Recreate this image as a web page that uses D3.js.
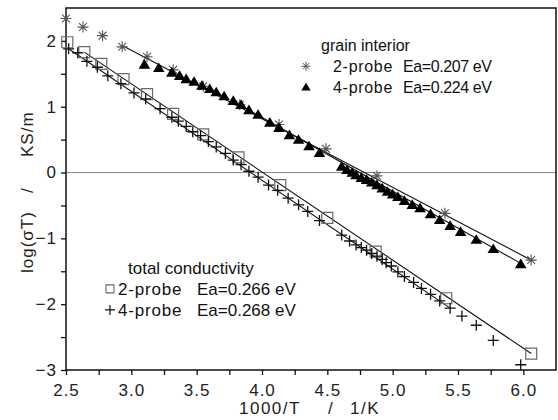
<!DOCTYPE html>
<html>
<head>
<meta charset="utf-8">
<script src="https://cdn.jsdelivr.net/npm/d3@7"></script>
<style>
  body { margin: 0; background: #fff; }
  svg { display: block; font-family: "Liberation Sans", Arial, sans-serif; }
</style>
</head>
<body>
<div id="chart"></div>
<script>
// values (x = 1000/T in 1/K, y = log(sigma T))
const giTwoX = [2.50, 2.63, 2.78, 2.93, 3.12, 3.32, 3.55, 3.83, 4.13, 4.49, 4.88, 5.40, 6.06];
const giTwoY = [2.34, 2.21, 2.08, 1.91, 1.76, 1.56, 1.31, 1.03, 0.73, 0.36, -0.05, -0.62, -1.33];

const giFourX = [3.10, 3.21, 3.31, 3.37, 3.42, 3.48, 3.54, 3.60, 3.65, 3.71,
                 3.78, 3.84, 3.90, 3.97, 4.06, 4.13, 4.21, 4.28, 4.36, 4.44,
                 4.61, 4.65, 4.69, 4.72, 4.76, 4.80, 4.84, 4.88, 4.92, 4.96,
                 5.00, 5.04, 5.09, 5.15, 5.21, 5.29, 5.36, 5.44, 5.52, 5.64,
                 5.77, 5.98];
const giFourY = [1.64, 1.59, 1.52, 1.47, 1.42, 1.38, 1.32, 1.27, 1.22, 1.16,
                 1.09, 1.03, 0.95, 0.88, 0.76, 0.68, 0.57, 0.50, 0.40, 0.30,
                 0.09, 0.04, 0.00, -0.04, -0.08, -0.11, -0.15, -0.19, -0.24, -0.29,
                 -0.33, -0.37, -0.43, -0.49, -0.54, -0.63, -0.72, -0.81, -0.90, -1.02,
                 -1.16, -1.39];

const totTwoX = [2.51, 2.64, 2.77, 2.94, 3.12, 3.32, 3.55, 3.82, 4.14, 4.50, 4.87, 5.41, 6.06];
const totTwoY = [1.98, 1.83, 1.65, 1.42, 1.19, 0.89, 0.58, 0.23, -0.19, -0.69, -1.20, -1.91, -2.75];

const totFourX = [2.52, 2.59, 2.66, 2.74, 2.82, 2.92, 3.02, 3.11, 3.22, 3.31,
                  3.36, 3.42, 3.47, 3.53, 3.59, 3.65, 3.72, 3.78, 3.84, 3.90,
                  3.97, 4.05, 4.12, 4.20, 4.28, 4.35, 4.44, 4.61, 4.67, 4.72,
                  4.76, 4.80, 4.84, 4.88, 4.92, 4.95, 4.99, 5.04, 5.09, 5.16,
                  5.22, 5.29, 5.36, 5.44, 5.53, 5.64, 5.77, 5.98];
const totFourY = [1.88, 1.82, 1.69, 1.60, 1.47, 1.35, 1.21, 1.12, 0.97, 0.84,
                  0.78, 0.70, 0.62, 0.56, 0.47, 0.39, 0.29, 0.19, 0.12, 0.02,
                  -0.07, -0.19, -0.27, -0.39, -0.49, -0.59, -0.73, -0.95, -1.04, -1.10,
                  -1.14, -1.18, -1.23, -1.27, -1.32, -1.37, -1.42, -1.51, -1.58, -1.67,
                  -1.76, -1.85, -1.95, -2.06, -2.18, -2.32, -2.55, -2.92];

// fitted Arrhenius lines, end points
// order: grain 2-probe, grain 4-probe, total 2-probe, total 4-probe
const fitStartX = [2.93, 3.80, 2.64, 2.52];
const fitStartY = [1.93, 1.06, 1.83, 1.88];
const fitEndX = [6.06, 5.98, 6.06, 5.44];
const fitEndY = [-1.33, -1.38, -2.75, -2.06];

const xTicks = [2.5, 2.75, 3.0, 3.25, 3.5, 3.75, 4.0, 4.25, 4.5, 4.75, 5.0, 5.25, 5.5, 5.75, 6.0];
const yTicks = [-3, -2.5, -2, -1.5, -1, -0.5, 0, 0.5, 1, 1.5, 2];

const grainTitle = "grain interior";
const grainProbes = ["2-probe", "4-probe"];
const grainEa = ["Ea=0.207 eV", "Ea=0.224 eV"];
const totalTitle = "total conductivity";
const totalProbes = ["2-probe", "4-probe"];
const totalEa = ["Ea=0.266 eV", "Ea=0.268 eV"];

const width = 558, height = 420;
const margin = { top: 8, right: 2, bottom: 50, left: 66 };

const svg = d3.select("#chart").append("svg")
    .attr("width", width)
    .attr("height", height);

const x = d3.scaleLinear().domain([2.5, 6.25]).range([margin.left, width - margin.right]);
const y = d3.scaleLinear().domain([-3, 2.5]).range([height - margin.bottom, margin.top]);

// zero line
svg.append("line")
    .attr("x1", x(2.5)).attr("x2", x(6.25))
    .attr("y1", y(0)).attr("y2", y(0))
    .attr("stroke", "#8a8a8a")
    .attr("stroke-width", 1);

// axes
const xAxis = d3.axisBottom(x)
    .tickValues(xTicks)
    .tickSize(5)
    .tickSizeOuter(0)
    .tickFormat(d => (Math.abs(d * 2 - Math.round(d * 2)) < 1e-9) ? d3.format(".1f")(d) : "");
const yAxis = d3.axisLeft(y)
    .tickValues(yTicks)
    .tickSize(5)
    .tickSizeOuter(0)
    .tickFormat(d => Number.isInteger(d) ? d3.format("d")(d) : "");

const gx = svg.append("g")
    .attr("transform", `translate(0,${y(-3)})`)
    .call(xAxis);
const gy = svg.append("g")
    .attr("transform", `translate(${x(2.5)},0)`)
    .call(yAxis);

[gx, gy].forEach(g => {
    g.select(".domain").remove();
    g.selectAll(".tick line").attr("stroke", "#111").attr("stroke-width", 1.3);
    g.selectAll(".tick text")
        .attr("fill", "#222")
        .attr("font-size", 17)
        .attr("font-family", "Liberation Sans, Arial, sans-serif")
        .style("letter-spacing", "1px");
});
gx.selectAll(".tick text").attr("dy", "1.05em");
gy.selectAll(".tick text").attr("x", -9);

// frame
svg.append("rect")
    .attr("x", x(2.5)).attr("y", y(2.5))
    .attr("width", x(6.25) - x(2.5))
    .attr("height", y(-3) - y(2.5))
    .attr("fill", "none")
    .attr("stroke", "#111")
    .attr("stroke-width", 1.5);

// fit lines
const line = d3.line().x(d => x(d[0])).y(d => y(d[1]));
svg.append("g")
    .selectAll("path")
    .data(fitStartX.map((v, i) => [[v, fitStartY[i]], [fitEndX[i], fitEndY[i]]]))
    .join("path")
    .attr("d", line)
    .attr("fill", "none")
    .attr("stroke", "#111")
    .attr("stroke-width", 1.1);

// marker shapes
const asteriskPath = r => {
    const d = r * Math.SQRT1_2;
    return `M${-r},0L${r},0M0,${-r}L0,${r}M${-d},${-d}L${d},${d}M${-d},${d}L${d},${-d}`;
};
const plusPath = r => `M${-r},0L${r},0M0,${-r}L0,${r}`;
const trianglePath = r => `M0,${-r}L${r * 1.05},${r * 0.75}L${-r * 1.05},${r * 0.75}Z`;
const squarePath = r => `M${-r},${-r}H${r}V${r}H${-r}Z`;

function drawMarkers(xs, ys, path, fill, stroke, sw) {
    svg.append("g")
        .selectAll("path")
        .data(xs.map((v, i) => [v, ys[i]]))
        .join("path")
        .attr("transform", d => `translate(${x(d[0])},${y(d[1])})`)
        .attr("d", path)
        .attr("fill", fill)
        .attr("stroke", stroke)
        .attr("stroke-width", sw);
}

drawMarkers(totTwoX, totTwoY, squarePath(5.5), "none", "#6a6a6a", 1.2);
drawMarkers(totFourX, totFourY, plusPath(5.5), "none", "#111", 1.3);
drawMarkers(giTwoX, giTwoY, asteriskPath(5.5), "none", "#555", 1.1);
drawMarkers(giFourX, giFourY, trianglePath(5.5), "#000", "none", 0);

// legends
function legend(o) {
    const g = svg.append("g").attr("fill", "#111");
    g.append("text")
        .attr("x", o.titleX).attr("y", o.top)
        .attr("font-size", o.titleSize)
        .text(o.title);
    o.probes.forEach((p, i) => {
        const yy = o.top + o.gap * (i + 1);
        g.append("text").attr("x", o.probeX).attr("y", yy)
            .attr("font-size", o.size)
            .style("letter-spacing", o.probeSpacing + "px")
            .text(p);
        g.append("text").attr("x", o.eaX).attr("y", yy)
            .attr("font-size", o.size)
            .style("letter-spacing", o.eaSpacing + "px")
            .text(o.ea[i]);
        g.append("path")
            .attr("transform", `translate(${o.symX},${yy - o.size * 0.36})`)
            .attr("d", o.paths[i])
            .attr("fill", o.styles[i].fill)
            .attr("stroke", o.styles[i].stroke)
            .attr("stroke-width", o.styles[i].sw);
    });
}

legend({
    top: 51, title: grainTitle, titleX: 321, titleSize: 16,
    probes: grainProbes, ea: grainEa, probeX: 333, eaX: 403, symX: 306,
    size: 16, gap: 21, probeSpacing: 0.7, eaSpacing: -0.4,
    paths: [asteriskPath(4.5), trianglePath(4.5)],
    styles: [{ fill: "none", stroke: "#555", sw: 1 }, { fill: "#000", stroke: "none", sw: 0 }]
});

legend({
    top: 274, title: totalTitle, titleX: 128, titleSize: 17,
    probes: totalProbes, ea: totalEa, probeX: 118, eaX: 197, symX: 110,
    size: 17, gap: 21, probeSpacing: 0.8, eaSpacing: 0,
    paths: [squarePath(4), plusPath(5)],
    styles: [{ fill: "none", stroke: "#6a6a6a", sw: 1.1 }, { fill: "none", stroke: "#111", sw: 1.2 }]
});

// axis titles, pieces placed as in the original
const xTitle = svg.append("g")
    .attr("font-size", 17)
    .attr("fill", "#222")
    .style("letter-spacing", "1.5px");
xTitle.append("text").attr("x", 239).attr("y", 414).text("1000/T");
xTitle.append("text").attr("x", 328).attr("y", 414).text("/");
xTitle.append("text").attr("x", 350).attr("y", 414).text("1/K");

const yTitle = svg.append("g")
    .attr("font-size", 17)
    .attr("fill", "#222")
    .style("letter-spacing", "1px");
yTitle.append("text").attr("transform", "translate(33,273) rotate(-90)").text("log(σT)");
yTitle.append("text").attr("transform", "translate(33,193) rotate(-90)").text("/");
yTitle.append("text").attr("transform", "translate(33,157) rotate(-90)").text("KS/m");
</script>
</body>
</html>
